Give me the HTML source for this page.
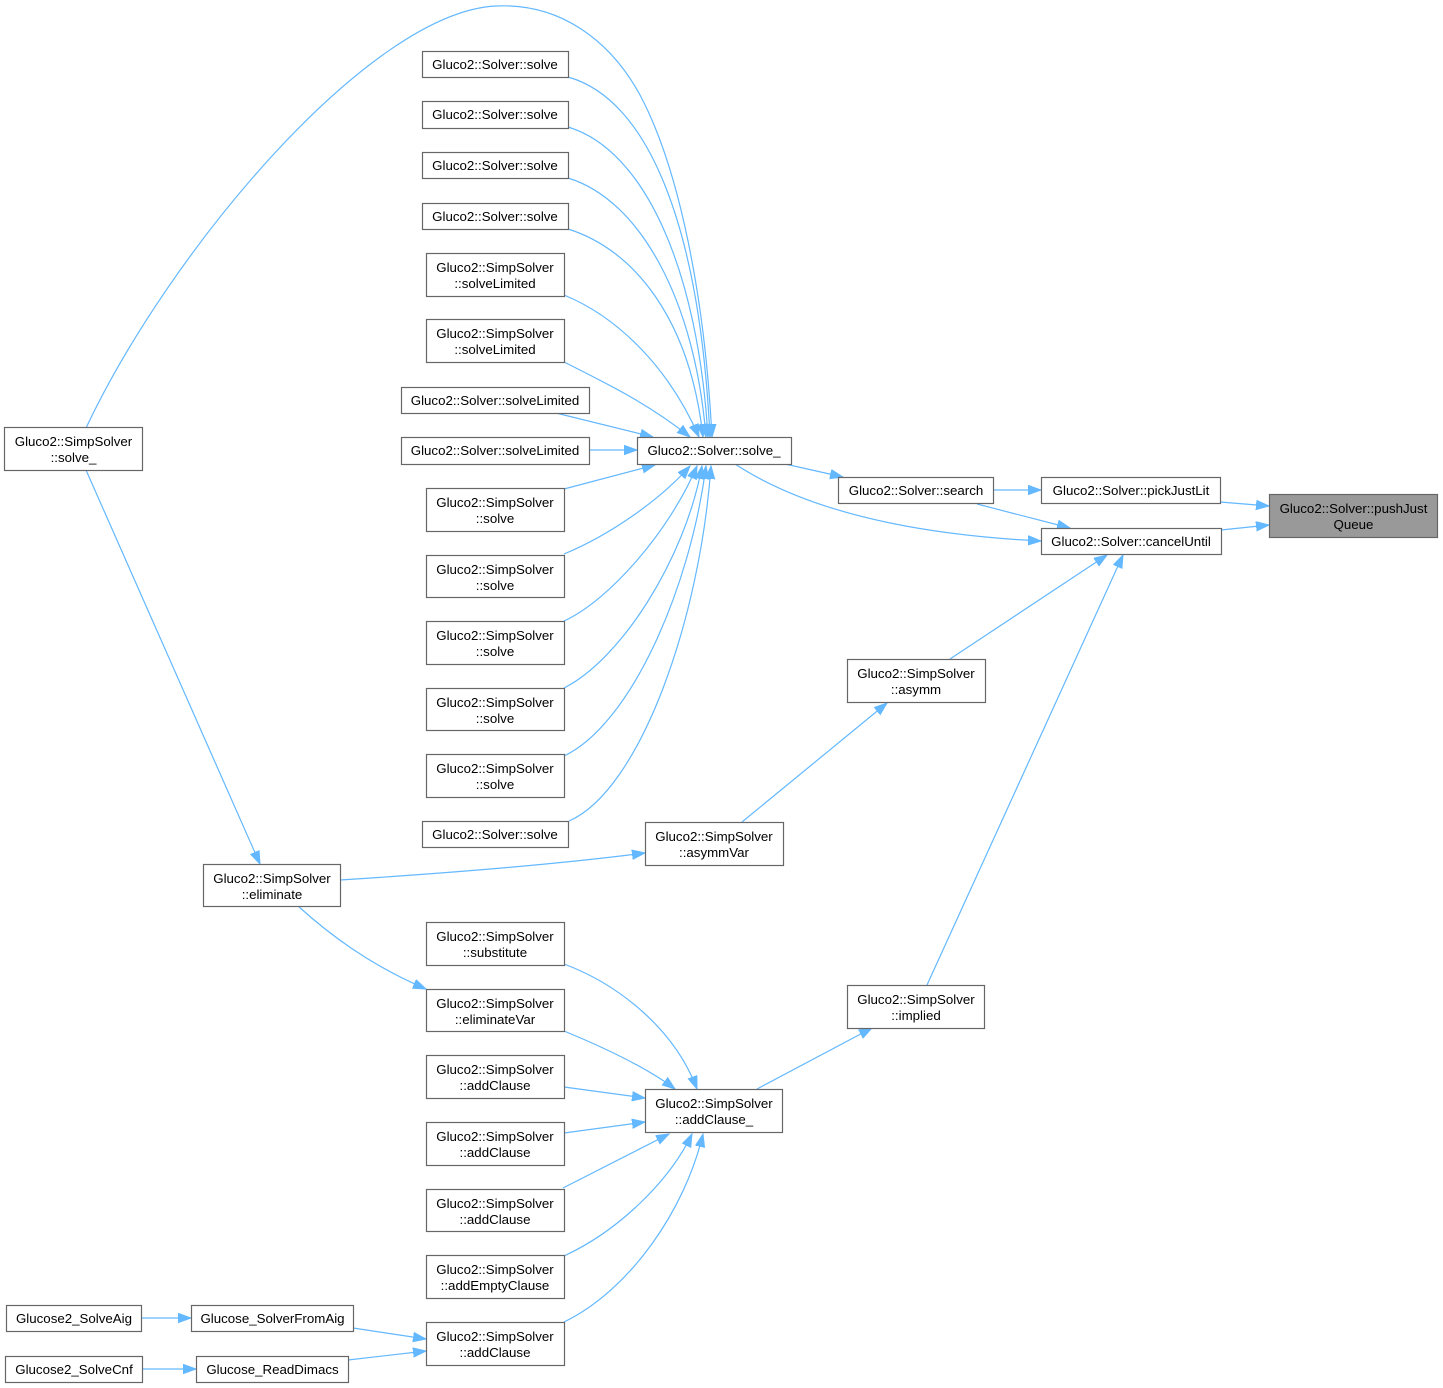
<!DOCTYPE html>
<html>
<head>
<meta charset="utf-8">
<style>
html,body{margin:0;padding:0;background:#fff;}
svg{display:block;}
text{font-family:"Liberation Sans",Arial,Helvetica,sans-serif;font-size:13.3px;fill:#000;text-anchor:middle;}
.n{fill:#fff;stroke:#666;stroke-width:1.2;}
.g{fill:#999;stroke:#666;stroke-width:1.2;}
.e{fill:none;stroke:#63b8ff;stroke-width:1.2;}
</style>
</head>
<body>
<svg width="1443" height="1388" viewBox="0 0 1443 1388" xmlns="http://www.w3.org/2000/svg">
<defs>
<marker id="a" markerUnits="userSpaceOnUse" markerWidth="14" markerHeight="11" refX="13" refY="5" orient="auto">
<path d="M0,0.3 L13,5 L0,9.7 z" fill="#63b8ff" stroke="#63b8ff" stroke-width="1"/>
</marker>
</defs>

<!-- edges -->
<g class="e" marker-end="url(#a)">
<path d="M86,428 C170,250 370,12 496,6 C560,3 610,40 640,95 C680,170 705,300 712,437"/>
<path d="M568,77 C650,100 700,230 710,437"/>
<path d="M568,127 C645,150 698,270 708,437"/>
<path d="M568,178 C640,200 695,300 706,437"/>
<path d="M568,229 C635,250 690,320 703,437"/>
<path d="M564,295 C620,318 670,370 699,437"/>
<path d="M564,362 C610,385 650,405 690,437"/>
<path d="M556,413 L653,437"/>
<path d="M589,450 L637,450"/>
<path d="M564,489 L655,465"/>
<path d="M564,554 C610,535 660,500 690,466"/>
<path d="M564,621 C610,600 670,530 697,466"/>
<path d="M564,688 C620,660 685,560 702,466"/>
<path d="M564,756 C630,725 690,590 706,466"/>
<path d="M569,821 C640,790 700,620 711,466"/>

<path d="M86,470 L260,864"/>
<path d="M340,880 C450,873 560,864 645,853"/>
<path d="M298,906 C330,935 370,965 426,989"/>

<path d="M742,822 L887,703"/>
<path d="M950,659 L1107,555"/>
<path d="M927,985 L1123,555"/>
<path d="M757,1089 L872,1028"/>

<path d="M977,504 L1070,528"/>
<path d="M785,464 L843,477"/>
<path d="M735,464 C790,500 880,533 1041,541"/>
<path d="M993,490 L1041,490"/>
<path d="M1220,502 L1269,506"/>
<path d="M1221,530 L1269,525"/>

<path d="M564,964 C620,985 675,1030 697,1089"/>
<path d="M564,1031 C610,1050 650,1070 675,1089"/>
<path d="M564,1087 L645,1098"/>
<path d="M564,1133 L645,1122"/>
<path d="M563,1188 L669,1134"/>
<path d="M564,1256 C620,1230 670,1180 692,1134"/>
<path d="M564,1322 C630,1290 685,1210 703,1134"/>

<path d="M353,1328 L426,1339"/>
<path d="M348,1360 L426,1351"/>
<path d="M141,1318 L191,1318"/>
<path d="M142,1369 L196,1369"/>
</g>

<!-- nodes -->
<rect class="g" x="1269.5" y="494.5" width="168" height="43"/>
<text x="1353.5" y="513">Gluco2::Solver::pushJust</text>
<text x="1353.5" y="529">Queue</text>

<rect class="n" x="1041.5" y="477.5" width="179" height="26"/>
<text x="1131" y="495">Gluco2::Solver::pickJustLit</text>

<rect class="n" x="1041.5" y="528.5" width="180" height="26"/>
<text x="1131" y="546">Gluco2::Solver::cancelUntil</text>

<rect class="n" x="838.5" y="477.5" width="155" height="26"/>
<text x="916" y="495">Gluco2::Solver::search</text>

<rect class="n" x="637.5" y="437.5" width="154" height="27"/>
<text x="714" y="455">Gluco2::Solver::solve_</text>

<rect class="n" x="847.5" y="659.5" width="138" height="43"/>
<text x="916" y="678">Gluco2::SimpSolver</text>
<text x="916" y="694">::asymm</text>

<rect class="n" x="847.5" y="985.5" width="137" height="43"/>
<text x="916" y="1004">Gluco2::SimpSolver</text>
<text x="916" y="1020">::implied</text>

<rect class="n" x="645.5" y="822.5" width="138" height="43"/>
<text x="714" y="841">Gluco2::SimpSolver</text>
<text x="714" y="857">::asymmVar</text>

<rect class="n" x="645.5" y="1089.5" width="137" height="43"/>
<text x="714" y="1108">Gluco2::SimpSolver</text>
<text x="714" y="1124">::addClause_</text>

<rect class="n" x="422.5" y="51.5" width="146" height="26"/>
<text x="495" y="69">Gluco2::Solver::solve</text>
<rect class="n" x="422.5" y="101.5" width="146" height="27"/>
<text x="495" y="119">Gluco2::Solver::solve</text>
<rect class="n" x="422.5" y="152.5" width="146" height="26"/>
<text x="495" y="170">Gluco2::Solver::solve</text>
<rect class="n" x="422.5" y="203.5" width="146" height="26"/>
<text x="495" y="221">Gluco2::Solver::solve</text>

<rect class="n" x="426.5" y="253.5" width="138" height="43"/>
<text x="495" y="272">Gluco2::SimpSolver</text>
<text x="495" y="288">::solveLimited</text>
<rect class="n" x="426.5" y="319.5" width="138" height="43"/>
<text x="495" y="338">Gluco2::SimpSolver</text>
<text x="495" y="354">::solveLimited</text>

<rect class="n" x="401.5" y="387.5" width="188" height="26"/>
<text x="495" y="405">Gluco2::Solver::solveLimited</text>
<rect class="n" x="401.5" y="437.5" width="188" height="27"/>
<text x="495" y="455">Gluco2::Solver::solveLimited</text>

<rect class="n" x="426.5" y="488.5" width="138" height="43"/>
<text x="495" y="507">Gluco2::SimpSolver</text>
<text x="495" y="523">::solve</text>
<rect class="n" x="426.5" y="555.5" width="138" height="42"/>
<text x="495" y="574">Gluco2::SimpSolver</text>
<text x="495" y="590">::solve</text>
<rect class="n" x="426.5" y="621.5" width="138" height="43"/>
<text x="495" y="640">Gluco2::SimpSolver</text>
<text x="495" y="656">::solve</text>
<rect class="n" x="426.5" y="688.5" width="138" height="42"/>
<text x="495" y="707">Gluco2::SimpSolver</text>
<text x="495" y="723">::solve</text>
<rect class="n" x="426.5" y="754.5" width="138" height="43"/>
<text x="495" y="773">Gluco2::SimpSolver</text>
<text x="495" y="789">::solve</text>

<rect class="n" x="422.5" y="821.5" width="146" height="26"/>
<text x="495" y="839">Gluco2::Solver::solve</text>

<rect class="n" x="4.5" y="427.5" width="138" height="43"/>
<text x="73.5" y="446">Gluco2::SimpSolver</text>
<text x="73.5" y="462">::solve_</text>

<rect class="n" x="203.5" y="864.5" width="137" height="42"/>
<text x="272" y="883">Gluco2::SimpSolver</text>
<text x="272" y="899">::eliminate</text>

<rect class="n" x="426.5" y="922.5" width="138" height="43"/>
<text x="495" y="941">Gluco2::SimpSolver</text>
<text x="495" y="957">::substitute</text>
<rect class="n" x="426.5" y="989.5" width="138" height="42"/>
<text x="495" y="1008">Gluco2::SimpSolver</text>
<text x="495" y="1024">::eliminateVar</text>
<rect class="n" x="426.5" y="1055.5" width="138" height="43"/>
<text x="495" y="1074">Gluco2::SimpSolver</text>
<text x="495" y="1090">::addClause</text>
<rect class="n" x="426.5" y="1122.5" width="138" height="43"/>
<text x="495" y="1141">Gluco2::SimpSolver</text>
<text x="495" y="1157">::addClause</text>
<rect class="n" x="426.5" y="1189.5" width="138" height="42"/>
<text x="495" y="1208">Gluco2::SimpSolver</text>
<text x="495" y="1224">::addClause</text>
<rect class="n" x="426.5" y="1255.5" width="138" height="43"/>
<text x="495" y="1274">Gluco2::SimpSolver</text>
<text x="495" y="1290">::addEmptyClause</text>
<rect class="n" x="426.5" y="1322.5" width="138" height="43"/>
<text x="495" y="1341">Gluco2::SimpSolver</text>
<text x="495" y="1357">::addClause</text>

<rect class="n" x="6.5" y="1305.5" width="135" height="26"/>
<text x="74" y="1323">Glucose2_SolveAig</text>
<rect class="n" x="191.5" y="1305.5" width="162" height="26"/>
<text x="272.5" y="1323">Glucose_SolverFromAig</text>
<rect class="n" x="5.5" y="1356.5" width="137" height="26"/>
<text x="74" y="1374">Glucose2_SolveCnf</text>
<rect class="n" x="196.5" y="1356.5" width="152" height="26"/>
<text x="272.5" y="1374">Glucose_ReadDimacs</text>
</svg>
</body>
</html>
